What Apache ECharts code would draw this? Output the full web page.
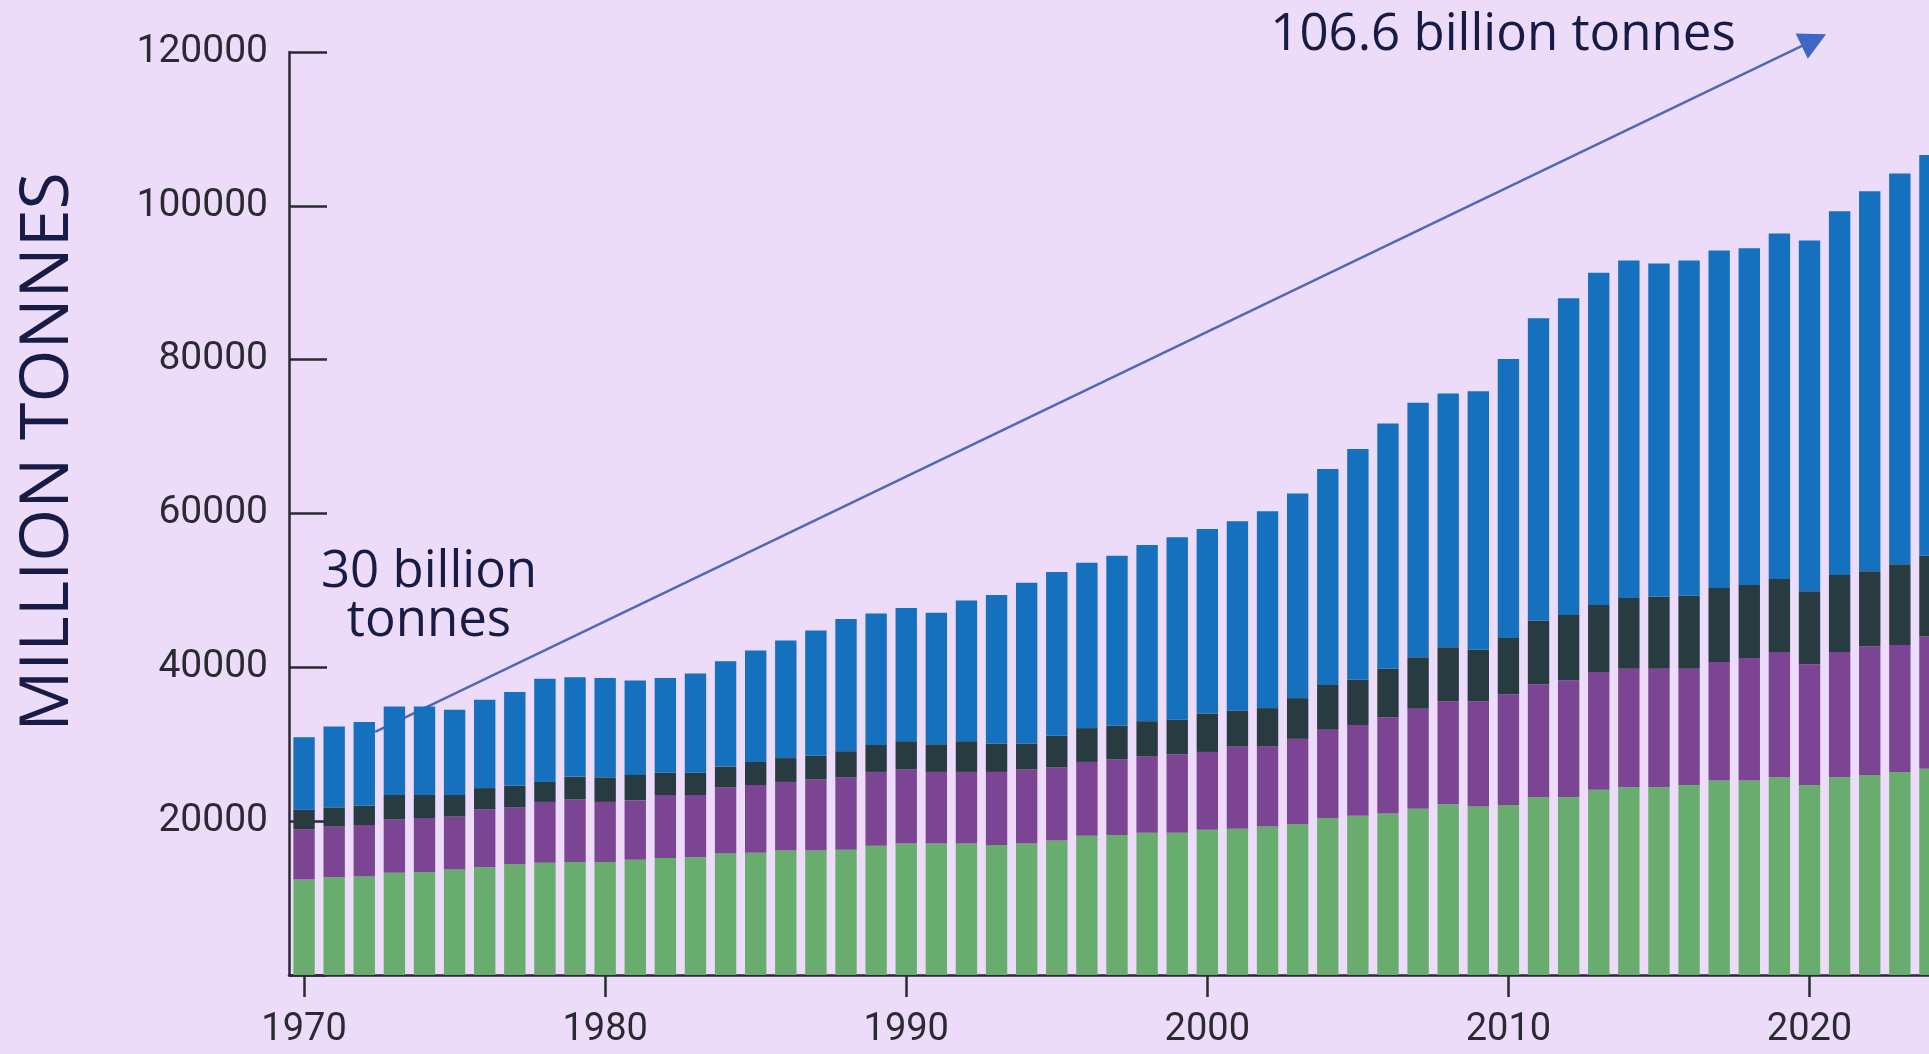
<!DOCTYPE html>
<html>
<head>
<meta charset="utf-8">
<script src="https://cdn.jsdelivr.net/npm/echarts@6/dist/echarts.min.js"></script>
<style>
html,body{margin:0;padding:0;background:#eddcf9;}
#chart{width:1929px;height:1054px;}
</style>
</head>
<body>
<div id="chart"></div>
<script>
// Years (categories)
const years = ['1970','1971','1972','1973','1974','1975','1976','1977','1978','1979',
  '1980','1981','1982','1983','1984','1985','1986','1987','1988','1989',
  '1990','1991','1992','1993','1994','1995','1996','1997','1998','1999',
  '2000','2001','2002','2003','2004','2005','2006','2007','2008','2009',
  '2010','2011','2012','2013','2014','2015','2016','2017','2018','2019',
  '2020','2021','2022','2023','2024'];

// Million tonnes per component (stacked bottom to top)
const biomass = [12400,12700,12800,13300,13400,13700,14000,14400,14600,14700,
  14700,15000,15200,15300,15800,15900,16200,16200,16300,16800,
  17100,17100,17100,16900,17100,17500,18100,18200,18500,18500,
  18900,19000,19300,19600,20400,20700,21000,21600,22200,21900,
  22100,23100,23100,24100,24400,24400,24700,25300,25300,25700,
  24700,25700,26000,26400,26800];
const fossilFuels = [6500,6600,6700,6900,7000,6900,7500,7400,7900,8100,
  7800,7700,8200,8100,8600,8800,8900,9200,9400,9600,
  9600,9300,9300,9500,9600,9500,9600,9800,9900,10200,
  10100,10700,10400,11100,11500,11800,12500,13000,13400,13700,
  14400,14700,15200,15300,15400,15400,15100,15400,15900,16300,
  15700,16300,16700,16500,17200];
const metalOres = [2600,2500,2500,3200,3000,2800,2800,2800,2600,3000,
  3200,3300,2900,2900,2700,3000,3100,3100,3400,3500,
  3700,3600,4000,3700,3400,4100,4400,4400,4600,4500,
  5000,4700,5000,5300,5800,5900,6300,6700,7000,6700,
  7300,8300,8500,8700,9200,9400,9500,9600,9500,9500,
  9500,10000,9800,10500,10500];
const nonMetallicMinerals = [9400,10500,10900,11500,11500,11100,11500,12200,13400,12900,
  12900,12300,12300,12900,13700,14500,15300,16300,17200,17100,
  17300,17100,18300,19300,20900,21300,21500,22100,22900,23700,
  24000,24600,25600,26600,28100,30000,31900,33100,33000,33600,
  36300,39300,41200,43200,43900,43300,43600,43900,43800,44900,
  45600,47300,49400,50800,52100];

// Y axis
const yMin = 0, yMax = 120000, yStep = 20000;

// Annotation arrow, in [year, million tonnes] (tip is the arrow point)
const arrowStart = [1972.36, 31600];
const arrowTip = [2020.55, 122300];
const annotationTop = '106.6 billion tonnes';
const annotationStart = '30 billion\ntonnes';

const textColor = '#171b45';
const axisColor = '#2a2a33';

const chart = echarts.init(document.getElementById('chart'));
const barSeries = (name, data, color) => ({
  name, type: 'bar', stack: 'total', data,
  barCategoryGap: '29%',
  itemStyle: { color },
  emphasis: { disabled: true },
  xAxisIndex: 0, yAxisIndex: 0
});

const textGraphics = [
  {
    type: 'text', x: 49, y: 452, rotation: Math.PI / 2,
    style: { text: 'MILLION TONNES', fill: textColor, fontFamily: 'Open Sans', fontSize: 68,
      textAlign: 'center', textVerticalAlign: 'middle' }
  },
  {
    type: 'text', x: 1503, y: 35,
    style: { text: annotationTop, fill: textColor, fontFamily: 'Open Sans', fontSize: 51,
      textAlign: 'center', textVerticalAlign: 'middle' }
  },
  {
    type: 'text', x: 429, y: 597,
    style: { text: annotationStart, fill: textColor, fontFamily: 'Open Sans', fontSize: 51,
      lineHeight: 49, textAlign: 'center', textVerticalAlign: 'middle' }
  }
];

chart.setOption({
  backgroundColor: '#eddcf9',
  animation: false,
  grid: { left: 289, width: 1656, top: 52, bottom: 79, containLabel: false, outerBoundsMode: 'none' },
  xAxis: [{
    type: 'category',
    data: years,
    boundaryGap: true,
    axisLine: { show: true, lineStyle: { color: axisColor, width: 2.5 } },
    axisTick: { show: true, interval: 9, alignWithLabel: true, length: 22, lineStyle: { color: axisColor, width: 2.5 } },
    axisLabel: { interval: 9, margin: 36, color: '#2a2a33', fontFamily: 'Roboto', fontSize: 38, hideOverlap: false },
    splitLine: { show: false }
  }, {
    type: 'value', show: false, min: 1969.5, max: 2024.5, gridIndex: 0
  }],
  yAxis: [{
    type: 'value',
    min: yMin, max: yMax, interval: yStep,
    axisLine: { show: true, lineStyle: { color: axisColor, width: 2.5 } },
    axisTick: { show: true, inside: true, length: 38, lineStyle: { color: axisColor, width: 2.5 } },
    axisLabel: {
      margin: 21, color: '#2a2a33', fontFamily: 'Roboto', fontSize: 39,
      formatter: v => v === 0 ? '' : String(v)
    },
    splitLine: { show: false }
  }],
  series: [
    barSeries('Biomass', biomass, '#69ad6e'),
    barSeries('Fossil fuels', fossilFuels, '#7c4593'),
    barSeries('Metal ores', metalOres, '#283b41'),
    barSeries('Non-metallic minerals', nonMetallicMinerals, '#1570bd')
  ],
  graphic: textGraphics
});

// Arrow placed through the chart's own scales
const finder = { xAxisIndex: 1, yAxisIndex: 0 };
const p0 = chart.convertToPixel(finder, arrowStart);
const p1 = chart.convertToPixel(finder, arrowTip);
const dx = p1[0] - p0[0], dy = p1[1] - p0[1];
const len = Math.sqrt(dx * dx + dy * dy);
const ux = dx / len, uy = dy / len;
const headLen = 27, headHalf = 14;
const bx = p1[0] - ux * headLen, by = p1[1] - uy * headLen;
chart.setOption({
  graphic: textGraphics.concat([
    {
      type: 'line', silent: true,
      shape: { x1: p0[0], y1: p0[1], x2: bx + ux * 2, y2: by + uy * 2 },
      style: { stroke: '#5068b6', lineWidth: 2.5 }
    },
    {
      type: 'polygon', silent: true,
      shape: { points: [[p1[0], p1[1]], [bx - uy * headHalf, by + ux * headHalf], [bx + uy * headHalf, by - ux * headHalf]] },
      style: { fill: '#3f66c6' }
    }
  ])
});
</script>
</body>
</html>
